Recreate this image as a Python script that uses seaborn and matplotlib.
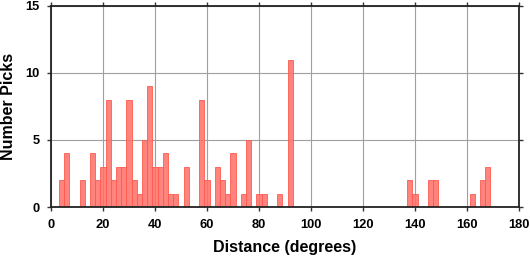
import numpy as np
import pandas as pd
import matplotlib
matplotlib.use("Agg")
import matplotlib.pyplot as plt
import seaborn as sns

# bin left edges (degrees) and counts; bins are 2 degrees wide
bin_left = [3, 5, 11, 15, 17, 19, 21, 23, 25, 27, 29, 31, 33, 35, 37, 39, 41, 43, 45, 47,
            51, 57, 59, 63, 65, 67, 69, 73, 75, 79, 81, 87, 91,
            137, 139, 145, 147, 161, 165, 167]
counts = [2, 4, 2, 4, 2, 3, 8, 2, 3, 3, 8, 2, 1, 5, 9, 3, 3, 4, 1, 1,
          3, 8, 2, 3, 2, 1, 4, 1, 5, 1, 1, 1, 11,
          2, 1, 2, 2, 1, 2, 3]
xticks = [0, 20, 40, 60, 80, 100, 120, 140, 160, 180]
yticks = [0, 5, 10, 15]

df = pd.DataFrame({"dist": np.array(bin_left) + 1.0, "n": counts})

sns.set_style("white")
plt.rcParams["font.family"] = ["Liberation Sans", "DejaVu Sans"]
plt.rcParams["font.weight"] = "bold"
plt.rcParams["text.color"] = "black"
plt.rcParams["axes.labelcolor"] = "black"
plt.rcParams["xtick.color"] = "black"
plt.rcParams["ytick.color"] = "black"

fig = plt.figure(figsize=(5.3, 2.58), dpi=100)
ax = fig.add_axes([51/530, 1-207/258, (519-51)/530, (207-6)/258])

ax.grid(True, color="#a0a0a0", linewidth=0.8)
ax.set_axisbelow(True)

sns.histplot(data=df, x="dist", weights="n", binwidth=2, binrange=(1, 181),
             color="#ff6f66", alpha=0.85, edgecolor="#ff5a50", linewidth=0.6, ax=ax)

ax.set_xlim(0, 180)
ax.set_ylim(0, 15)
ax.set_xticks(xticks)
ax.set_yticks(yticks)
ax.set_xticklabels([str(t) for t in xticks], fontsize=9.3, fontweight="bold", color="black")
ax.set_yticklabels([str(t) for t in yticks], fontsize=9.3, fontweight="bold", color="black")
ax.tick_params(axis="both", direction="out", length=3, width=1, color="#333333",
               top=True, right=True, bottom=True, left=True)
ax.tick_params(axis="x", pad=6)
ax.tick_params(axis="y", pad=5)
for s in ax.spines.values():
    s.set_color("#222222")
    s.set_linewidth(1.3)
    s.set_visible(True)

ax.set_xlabel("Distance (degrees)", fontsize=11.5, fontweight="bold", labelpad=6, color="black")
ax.set_ylabel("Number Picks", fontsize=11.5, fontweight="bold", labelpad=7, color="black")

fig.savefig("out.png", dpi=100)
